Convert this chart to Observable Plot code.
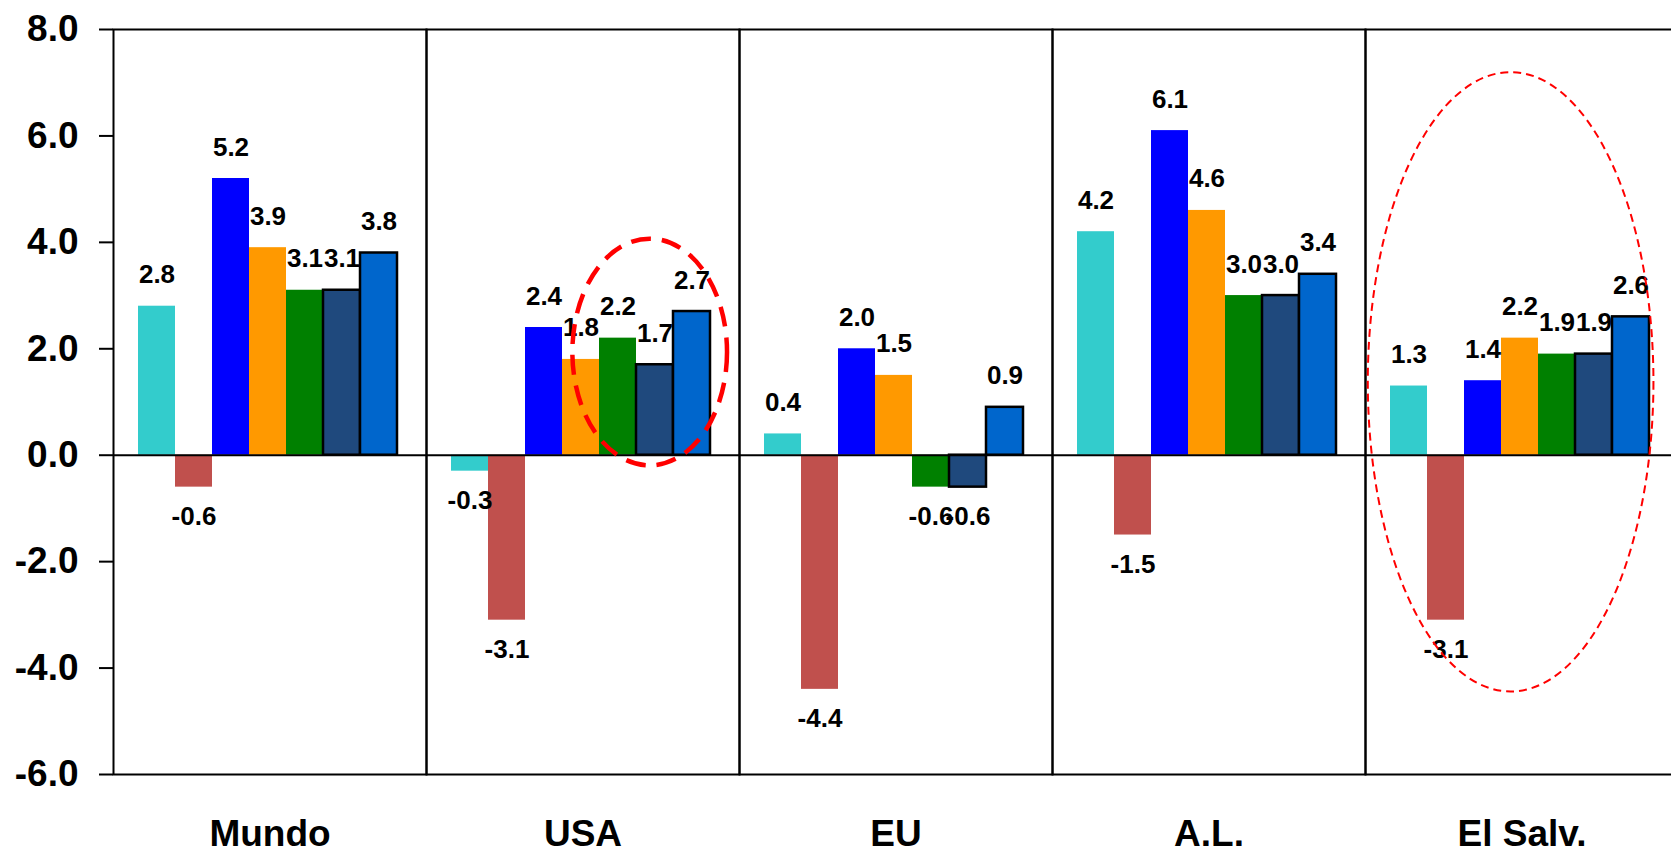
<!DOCTYPE html>
<html>
<head>
<meta charset="utf-8">
<script src="https://cdn.jsdelivr.net/npm/d3@7"></script>
<script src="https://cdn.jsdelivr.net/npm/@observablehq/plot@0.6"></script>
<style>
  html, body { margin: 0; padding: 0; background: #fff; }
  svg { display: block; }
</style>
</head>
<body>
<div id="chart"></div>
<script>
// ---- Data ----
const groups = ["Mundo", "USA", "EU", "A.L.", "El Salv."];
const seriesNames = ["2008", "2009", "2010", "2011", "2012", "2013", "2014"];
const s2008 = [2.8, -0.3, 0.4, 4.2, 1.3];
const s2009 = [-0.6, -3.1, -4.4, -1.5, -3.1];
const s2010 = [5.2, 2.4, 2.0, 6.1, 1.4];
const s2011 = [3.9, 1.8, 1.5, 4.6, 2.2];
const s2012 = [3.1, 2.2, -0.6, 3.0, 1.9];
const s2013 = [3.1, 1.7, -0.6, 3.0, 1.9];
const s2014 = [3.8, 2.7, 0.9, 3.4, 2.6];
const seriesValues = [s2008, s2009, s2010, s2011, s2012, s2013, s2014];
const yTicks = [-6, -4, -2, 0, 2, 4, 6, 8];

// ---- Styling config ----
const seriesColors = ["#33CCCC", "#C0504D", "#0000FF", "#FF9900", "#008000", "#1F497D", "#0066CC"];
const outlinedSeries = ["2013", "2014"];
// Highlight ellipses (in data units: bar-index along group, value along y)
const ellipses = [
  {group: "USA", xCenter: 4.87, xRadius: 2.09, yCenter: 1.93, yRadius: 2.13, width: 4.5, dash: "20,11"},
  {group: "El Salv.", xCenter: 2.76, xRadius: 3.86, yCenter: 1.37, yRadius: 5.82, width: 2, dash: "8,5"}
];

const data = groups.flatMap((g, gi) =>
  seriesNames.map((s, si) => ({group: g, series: s, value: seriesValues[si][gi]}))
);
const fmt = v => v.toFixed(1);
const font = "'Liberation Sans', Arial, Helvetica, sans-serif";

const plot = Plot.plot({
  width: 1671,
  height: 852,
  marginTop: 29,
  marginBottom: 78,
  marginLeft: 112,
  marginRight: 0,
  style: {fontFamily: font, background: "#fff", color: "black", overflow: "hidden"},
  fx: {domain: groups, range: [112, 1679], padding: 0, label: null},
  x: {domain: seriesNames, paddingInner: 0, paddingOuter: 0.72, align: 0.47, axis: null},
  y: {domain: [-6, 8], label: null},
  color: {domain: seriesNames, range: seriesColors},
  marks: [
    Plot.barY(data.filter(d => !outlinedSeries.includes(d.series)), {
      fx: "group", x: "series", y: "value", fill: "series"
    }),
    Plot.barY(data.filter(d => outlinedSeries.includes(d.series)), {
      fx: "group", x: "series", y: "value", fill: "series", stroke: "black", strokeWidth: 2.5
    }),
    Plot.ruleY([0], {stroke: "black", strokeWidth: 2}),
    Plot.frame({stroke: "black", strokeWidth: 2}),
    Plot.text(data.filter(d => d.value >= 0), {
      fx: "group", x: "series", y: "value", text: d => fmt(d.value),
      lineAnchor: "bottom", dy: -23, fontSize: 26, fontWeight: "bold", fill: "black"
    }),
    Plot.text(data.filter(d => d.value < 0), {
      fx: "group", x: "series", y: "value", text: d => fmt(d.value),
      lineAnchor: "top", dy: 19, fontSize: 26, fontWeight: "bold", fill: "black"
    }),
    Plot.axisY({
      ticks: yTicks, tickFormat: fmt, tickSize: 14, tickPadding: 21,
      fontSize: 37, fontWeight: "bold", strokeWidth: 2, label: null
    }),
    Plot.axisFx({
      anchor: "bottom", tickSize: 0, tickPadding: 45,
      fontSize: 37, fontWeight: "bold", label: null
    })
  ]
});

document.getElementById("chart").appendChild(plot);

// ---- Ellipse annotations positioned through the plot's scales ----
const fxS = plot.scale("fx"), xS = plot.scale("x"), yS = plot.scale("y");
const bw = xS.bandwidth;
const xRange0 = Math.min(...xS.range);
const svg = d3.select(plot);
for (const e of ellipses) {
  const x0 = fxS.apply(e.group) + (xS.apply(seriesNames[0]) - xRange0);
  const cx = x0 + (e.xCenter + 0.5) * bw;
  const cy = yS.apply(e.yCenter);
  const rx = e.xRadius * bw;
  const ry = Math.abs(yS.apply(e.yCenter + e.yRadius) - cy);
  svg.append("ellipse")
    .attr("cx", cx).attr("cy", cy).attr("rx", rx).attr("ry", ry)
    .attr("fill", "none").attr("stroke", "#FF0000")
    .attr("stroke-width", e.width).attr("stroke-dasharray", e.dash);
}
</script>
</body>
</html>
